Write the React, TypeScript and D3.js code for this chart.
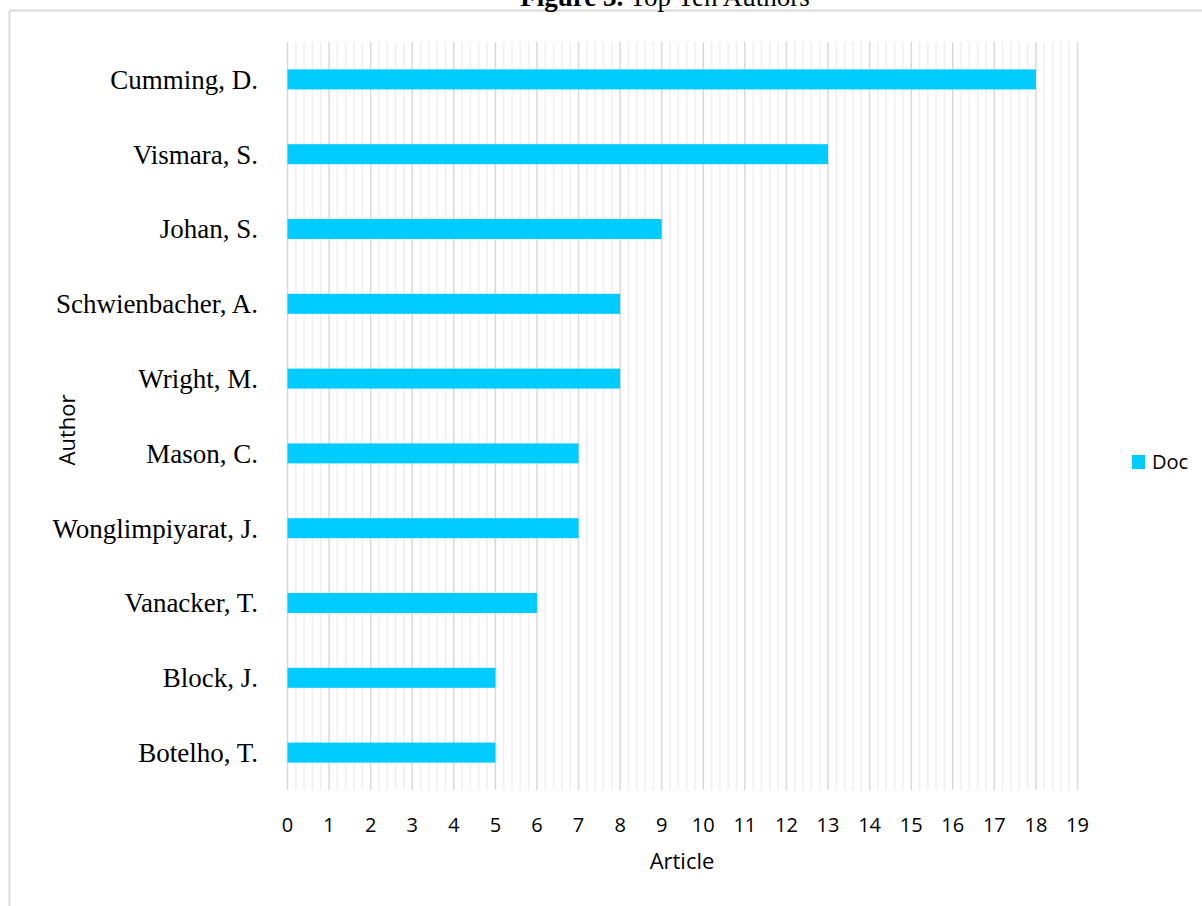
import React from "react";
import * as d3 from "d3";

const authors = [
  "Cumming, D.",
  "Vismara, S.",
  "Johan, S.",
  "Schwienbacher, A.",
  "Wright, M.",
  "Mason, C.",
  "Wonglimpiyarat, J.",
  "Vanacker, T.",
  "Block, J.",
  "Botelho, T.",
];
const docs = [18, 13, 9, 8, 8, 7, 7, 6, 5, 5];
const xTicks = d3.range(0, 20);
const seriesName = "Doc";
const xTitle = "Article";
const yTitle = "Author";

export default function App() {
  const W = 1202;
  const H = 906;
  const left = 287.5;
  const right = 1077.5;
  const top = 42;
  const bottom = 790;
  const x = d3.scaleLinear().domain([0, 19]).range([left, right]);
  const y = d3.scaleBand<string>().domain(authors).range([top, bottom]).padding(0);
  const minor = d3.range(0, 19.001, 0.2).filter((v) => Math.abs(v - Math.round(v)) > 1e-6);
  const barH = 20;
  const sans = "'Open Sans', sans-serif";
  const serif = "'Liberation Serif', serif";

  return (
    <svg
      width={W}
      height={H}
      style={{ position: "absolute", left: 0, top: 0, background: "#fff" }}
    >
      <line x1={9.5} y1={10.5} x2={W} y2={10.5} stroke="#d9d9d9" strokeWidth={2} />
      <line x1={9.5} y1={10.5} x2={9.5} y2={H} stroke="#d9d9d9" strokeWidth={2} />
      <text x={665} y={6} textAnchor="middle" fontFamily={serif} fontSize={27} fill="#000">
        <tspan fontWeight="bold">Figure 3.</tspan>
        <tspan> Top Ten Authors</tspan>
      </text>
      {minor.map((v) => (
        <line key={"m" + v} x1={x(v)} x2={x(v)} y1={top} y2={bottom} stroke="#efefef" strokeWidth={1.5} />
      ))}
      {xTicks.map((v) => (
        <line key={"M" + v} x1={x(v)} x2={x(v)} y1={top} y2={bottom} stroke="#d9d9d9" strokeWidth={1.5} />
      ))}
      {authors.map((a, i) => {
        const cy = (y(a) as number) + y.bandwidth() / 2;
        return (
          <g key={a}>
            <rect x={x(0)} y={cy - barH / 2} width={x(docs[i]) - x(0)} height={barH} fill="#00CCFF" />
            <text
              x={258}
              y={cy}
              dy="0.35em"
              textAnchor="end"
              fontFamily={serif}
              fontSize={27}
              fill="#000"
            >
              {a}
            </text>
          </g>
        );
      })}
      {xTicks.map((v) => (
        <text key={"t" + v} x={x(v)} y={832} textAnchor="middle" fontFamily={sans} fontSize={20} fill="#000">
          {v}
        </text>
      ))}
      <text x={682} y={869} textAnchor="middle" fontFamily={sans} fontSize={22} fill="#000">
        {xTitle}
      </text>
      <text
        transform="translate(75,430) rotate(-90)"
        textAnchor="middle"
        fontFamily={sans}
        fontSize={22}
        fill="#000"
      >
        {yTitle}
      </text>
      <rect x={1132} y={455} width={13} height={14} fill="#00CCFF" />
      <text x={1152} y={469} fontFamily={sans} fontSize={20} fill="#000">
        {seriesName}
      </text>
    </svg>
  );
}
